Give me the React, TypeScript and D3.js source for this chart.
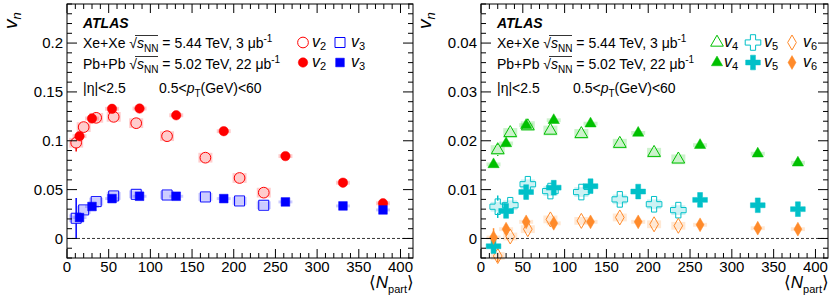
import React from 'react';
import * as d3 from 'd3';

const FONT = "'Liberation Sans', Arial, Helvetica, sans-serif";

// <Npart> per centrality class (70-80% ... 0-5%)
const npartPb = [15, 30, 54, 87, 131, 188, 262, 331, 379];
const npartXe = [11, 20, 35, 56, 83, 120, 166, 207, 236];
const npartXeHigh = [20, 35, 56, 83, 120, 166, 207, 236];

// left panel: v2, v3
const v2Xe = [0.098, 0.114, 0.1235, 0.1245, 0.118, 0.1047, 0.0827, 0.0619, 0.0469];
const v2XeErr = [0.009, 0.002, 0.001, 0.001, 0.001, 0.001, 0.001, 0.001, 0.001];
const v2Pb = [0.1047, 0.1228, 0.1327, 0.133, 0.1261, 0.1098, 0.0843, 0.0571, 0.036];
const v2PbErr = [0.002, 0.001, 0.001, 0.001, 0.001, 0.001, 0.001, 0.001, 0.001];
const v3Xe = [0.0207, 0.0292, 0.0377, 0.0435, 0.0452, 0.0445, 0.0425, 0.0384, 0.034];
const v3XeErr = [0.0206, 0.003, 0.001, 0.001, 0.001, 0.001, 0.001, 0.001, 0.001];
const v3Pb = [0.0214, 0.0327, 0.0408, 0.0432, 0.0432, 0.0408, 0.0374, 0.0333, 0.0292];
const v3PbErr = [0.002, 0.001, 0.001, 0.001, 0.001, 0.001, 0.001, 0.001, 0.001];

// right panel: v4, v5, v6
const v4Xe = [0.0181, 0.0216, 0.023, 0.0221, 0.0214, 0.0194, 0.01755, 0.0162];
const v4XeErr = [0.0012, 0.0004, 0.0003, 0.0003, 0.0003, 0.0003, 0.0003, 0.0003];
const v4Pb = [0.01516, 0.01945, 0.0232, 0.0242, 0.0235, 0.0216, 0.0191, 0.01735, 0.0155];
const v4PbErr = [0.0005, 0.0003, 0.0002, 0.0002, 0.0002, 0.0002, 0.0002, 0.0002, 0.0002];
const v5Xe = [0.0065, 0.0068, 0.0111, 0.0097, 0.0095, 0.008, 0.007, 0.0058];
const v5XeErr = [0.0023, 0.0008, 0.0004, 0.0003, 0.0003, 0.0003, 0.0003, 0.0003];
const v5Pb = [-0.0016, 0.00563, 0.0095, 0.0104, 0.0107, 0.0096, 0.0079, 0.0068, 0.006];
const v5PbErr = [0.0013, 0.0005, 0.0003, 0.0002, 0.0002, 0.0002, 0.0002, 0.0002, 0.0002];
const v6Xe = [-0.0036, 0.0004, 0.0019, 0.0039, 0.0036, 0.0043, 0.0029, 0.0026];
const v6XeErr = [0.0015, 0.0008, 0.0004, 0.0003, 0.0003, 0.0003, 0.0003, 0.0003];
const v6Pb = [0.0002, 0.0019, 0.0034, 0.0031, 0.0034, 0.0034, 0.0028, 0.0021, 0.0019];
const v6PbErr = [0.0019, 0.0005, 0.0003, 0.0002, 0.0002, 0.0002, 0.0002, 0.0002, 0.0002];

const leftYTicks = [0, 0.05, 0.1, 0.15, 0.2];
const rightYTicks = [0, 0.01, 0.02, 0.03, 0.04];
const xTicks = [0, 50, 100, 150, 200, 250, 300, 350, 400];

const RED = '#ff0000';
const BLUE = '#0000ff';
const GREEN = '#00c000';
const CYAN = '#00c0c8';
const ORANGE = '#ff8a2a';

type Series = {
  x: number[]; y: number[]; err: number[]; sys: number;
  color: string; shape: d3.SymbolType; size: number; open: boolean; r: number;
};

type LegendItem = { dx: number; row: number; s: Series; label: string; tdx: number };

const mk = (x, y, err, sys, color, shape, size, open, r): Series =>
  ({ x, y, err, sys, color, shape, size, open, r });

const leftSeries: Series[] = [
  mk(npartXe, v2Xe, v2XeErr, 0.005, RED, d3.symbolCircle, 90, true, 5),
  mk(npartXe, v3Xe, v3XeErr, 0.004, BLUE, d3.symbolSquare, 100, true, 5),
  mk(npartPb, v2Pb, v2PbErr, 0.002, RED, d3.symbolCircle, 70, false, 4.5),
  mk(npartPb, v3Pb, v3PbErr, 0.0015, BLUE, d3.symbolSquare, 75, false, 4.5),
];

const rightSeries: Series[] = [
  mk(npartXeHigh, v4Xe, v4XeErr, 0.001, GREEN, d3.symbolTriangle, 70, true, 5),
  mk(npartXeHigh, v5Xe, v5XeErr, 0.001, CYAN, d3.symbolCross, 135, true, 6),
  mk(npartXeHigh, v6Xe, v6XeErr, 0.0008, ORANGE, d3.symbolDiamond, 65, true, 6),
  mk(npartPb, v4Pb, v4PbErr, 0.0004, GREEN, d3.symbolTriangle, 55, false, 4),
  mk(npartPb, v5Pb, v5PbErr, 0.0004, CYAN, d3.symbolCross, 120, false, 5),
  mk(npartPb, v6Pb, v6PbErr, 0.0004, ORANGE, d3.symbolDiamond, 55, false, 5),
];

const leftLegend: LegendItem[] = [
  { dx: 236, row: 0, s: leftSeries[0], label: '2', tdx: 9 },
  { dx: 273, row: 0, s: leftSeries[1], label: '3', tdx: 11 },
  { dx: 236, row: 1, s: leftSeries[2], label: '2', tdx: 9 },
  { dx: 273, row: 1, s: leftSeries[3], label: '3', tdx: 11 },
];
const rightLegend: LegendItem[] = [
  { dx: 236, row: 0, s: rightSeries[0], label: '4', tdx: 7 },
  { dx: 272, row: 0, s: rightSeries[1], label: '5', tdx: 11 },
  { dx: 311, row: 0, s: rightSeries[2], label: '6', tdx: 11 },
  { dx: 236, row: 1, s: rightSeries[3], label: '4', tdx: 7 },
  { dx: 272, row: 1, s: rightSeries[4], label: '5', tdx: 11 },
  { dx: 311, row: 1, s: rightSeries[5], label: '6', tdx: 11 },
];

const fmt = (v: number) => String(+v.toFixed(3));

const Marker = ({ s, cx, cy }: { s: Series; cx: number; cy: number }) => (
  <path
    d={d3.symbol().type(s.shape).size(s.size)() || ''}
    transform={`translate(${cx},${cy})`}
    fill={s.open ? 'none' : s.color}
    stroke={s.color}
    strokeWidth={s.open ? 1 : 0.5}
  />
);

const EnergyLine = ({ x, y, sys, energy, lumi }) => (
  <g>
    <text x={x} y={y} fontSize={14} fontFamily={FONT}>
      {sys} √<tspan fontStyle="italic">s</tspan>
      <tspan fontSize={10} dy={4}>NN</tspan>
      <tspan dy={-4}> = {energy} TeV, {lumi} μb</tspan>
      <tspan fontSize={10} dy={-6}>-1</tspan>
    </text>
    <line x1={x + 52} x2={x + 75} y1={y - 12.5} y2={y - 12.5} stroke="#000" strokeWidth={0.8} />
  </g>
);

function Panel({ left, right, top, bottom, yDomain, yTicks, yMinor, series, legend }) {
  const x = d3.scaleLinear().domain([0, 415]).range([left, right]);
  const y = d3.scaleLinear().domain(yDomain).range([bottom, top]);
  const xMinor = d3.range(0, 416, 10).filter(v => v % 50 !== 0);
  const nMin = Math.round((yDomain[1] - yDomain[0]) / yMinor);
  const yMinorTicks = d3.range(0, nMin + 1).map(i => +(yDomain[0] + i * yMinor).toFixed(5));
  const boxHalf = 7;

  return (
    <g>
      {/* systematic boxes */}
      {series.map((s, si) => s.x.map((xv, i) => (
        <rect key={`b${si}-${i}`} x={x(xv) - boxHalf} width={boxHalf * 2}
          y={y(s.y[i] + s.sys)} height={y(s.y[i] - s.sys) - y(s.y[i] + s.sys)}
          fill={s.color} fillOpacity={0.2} />
      )))}
      <line x1={left} x2={right} y1={y(0)} y2={y(0)} stroke="#000" strokeWidth={0.8} strokeDasharray="3,2" />
      {/* stat errors */}
      {series.map((s, si) => s.x.map((xv, i) => {
        const cy = y(s.y[i]);
        const e = y(s.y[i] - s.err[i]) - cy;
        if (e <= s.r) return null;
        const cx = x(xv);
        return (
          <g key={`e${si}-${i}`} stroke={s.color} strokeWidth={1.5}>
            <line x1={cx} x2={cx} y1={cy - e} y2={cy - s.r} />
            <line x1={cx} x2={cx} y1={cy + s.r} y2={Math.min(cy + e, bottom)} />
          </g>
        );
      }))}
      {series.map((s, si) => s.x.map((xv, i) => (
        <Marker key={`m${si}-${i}`} s={s} cx={x(xv)} cy={y(s.y[i])} />
      )))}
      {/* frame and ticks */}
      <rect x={left} y={top} width={right - left} height={bottom - top} fill="none" stroke="#000" strokeWidth={1} />
      <g stroke="#000" strokeWidth={1}>
        {xTicks.map(v => (
          <g key={`xt${v}`}>
            <line x1={x(v)} x2={x(v)} y1={bottom} y2={bottom - 9} />
            <line x1={x(v)} x2={x(v)} y1={top} y2={top + 9} />
          </g>
        ))}
        {xMinor.map(v => (
          <g key={`xm${v}`}>
            <line x1={x(v)} x2={x(v)} y1={bottom} y2={bottom - 5} />
            <line x1={x(v)} x2={x(v)} y1={top} y2={top + 5} />
          </g>
        ))}
        {yMinorTicks.map(v => {
          const major = yTicks.some(t => Math.abs(t - v) < 1e-6);
          const len = major ? 10 : 5;
          return (
            <g key={`ym${v}`}>
              <line x1={left} x2={left + len} y1={y(v)} y2={y(v)} />
              <line x1={right} x2={right - len} y1={y(v)} y2={y(v)} />
            </g>
          );
        })}
      </g>
      {xTicks.map(v => (
        <text key={`xl${v}`} x={x(v)} y={bottom + 14} fontSize={15} fontFamily={FONT} textAnchor="middle">{v}</text>
      ))}
      {yTicks.map(v => (
        <text key={`yl${v}`} x={left - 4} y={y(v)} dy="0.36em" fontSize={15} fontFamily={FONT} textAnchor="end">{fmt(v)}</text>
      ))}
      {/* axis titles */}
      <text transform={`translate(${left - 50},29) rotate(-90)`} fontSize={19} fontFamily={FONT}>
        <tspan fontStyle="italic">v</tspan><tspan fontSize={13} dy={4} fontStyle="italic">n</tspan>
      </text>
      <text x={right + 1} y={288} fontSize={17} fontFamily={FONT} textAnchor="end">
        ⟨<tspan fontStyle="italic">N</tspan><tspan fontSize={11} dy={5}>part</tspan><tspan dy={-5}>⟩</tspan>
      </text>
      <text x={left + 16} y={28} fontSize={14} fontFamily={FONT} fontWeight="bold" fontStyle="italic">ATLAS</text>
      <EnergyLine x={left + 16} y={48} sys="Xe+Xe" energy="5.44" lumi="3" />
      <EnergyLine x={left + 16} y={69} sys="Pb+Pb" energy="5.02" lumi="22" />
      <text x={left + 16} y={93} fontSize={14} fontFamily={FONT}>|η|&lt;2.5</text>
      <text x={left + 92} y={93} fontSize={14} fontFamily={FONT}>
        0.5&lt;<tspan fontStyle="italic">p</tspan><tspan fontSize={10} dy={4}>T</tspan><tspan dy={-4}>(GeV)&lt;60</tspan>
      </text>
      {legend.map((l, i) => {
        const cy = l.row === 0 ? 42.5 : 62.5;
        const cx = left + l.dx;
        return (
          <g key={`lg${i}`}>
            <Marker s={l.s} cx={cx} cy={cy} />
            <text x={cx + l.tdx} y={cy + 4.5} fontSize={16} fontFamily={FONT}>
              <tspan fontStyle="italic">v</tspan><tspan fontSize={11} dy={3}>{l.label}</tspan>
            </text>
          </g>
        );
      })}
    </g>
  );
}

export default function App() {
  return (
    <svg width={830} height={303} style={{ position: 'absolute', left: 0, top: 0, background: '#fff' }}>
      <rect width={830} height={303} fill="#fff" />
      <Panel left={67} right={413} top={4} bottom={258} yDomain={[-0.02, 0.24]}
        yTicks={leftYTicks} yMinor={0.01} series={leftSeries} legend={leftLegend} />
      <Panel left={481} right={828} top={4} bottom={258} yDomain={[-0.004, 0.048]}
        yTicks={rightYTicks} yMinor={0.002} series={rightSeries} legend={rightLegend} />
    </svg>
  );
}
